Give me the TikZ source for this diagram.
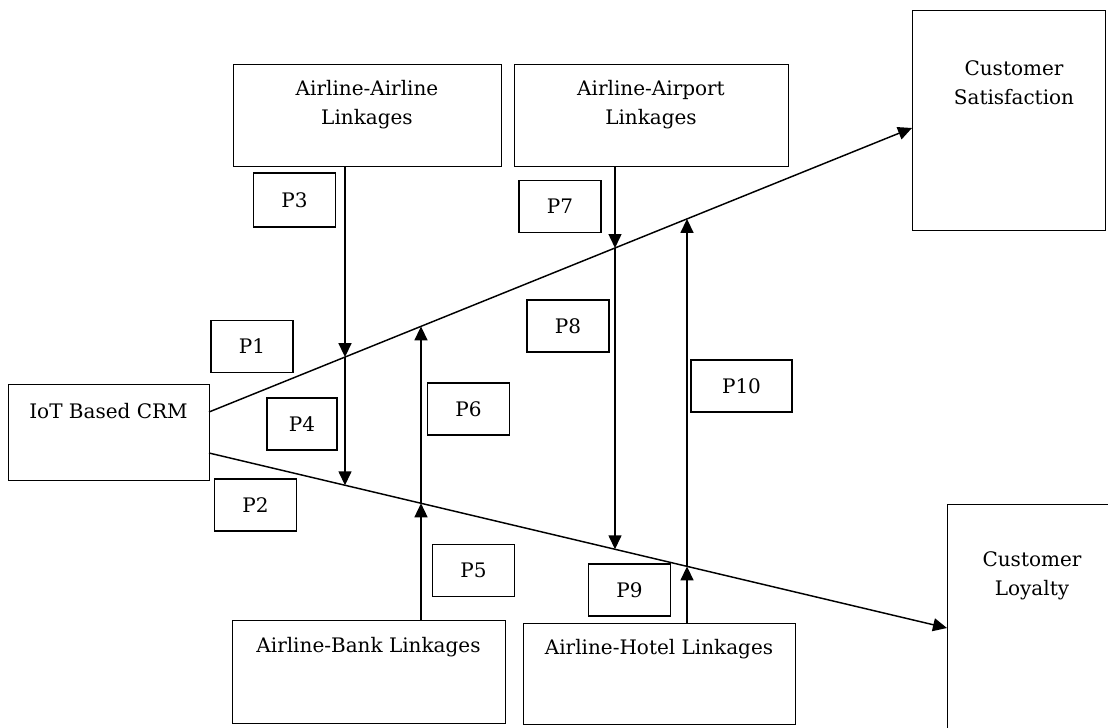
\documentclass[tikz,border=0pt]{standalone}
\usepackage{fontspec}
\setmainfont{DejaVu Serif}
\usetikzlibrary{arrows.meta}

\tikzset{every picture/.style={line width=0.75pt}}
\tikzset{
  box/.style={draw, line width=1pt, inner sep=0pt, anchor=north west},
  tag/.style={draw, line width=1pt, inner sep=0pt, minimum width=61.5pt, minimum height=39pt},
  lbl/.style={inner sep=0pt, align=center},
  link/.style={line width=1.1pt, -{Triangle[length=10.5pt,width=9.75pt]}},
}

\begin{document}
\begin{tikzpicture}[x=0.75pt,y=0.75pt,yscale=-1,xscale=1,font=\fontsize{15}{21.75}\selectfont]
\useasboundingbox (0,0) rectangle (1108,728);
\clip (0,0) rectangle (1108,728);

%Shape: Rectangle [crm]
\node [box, minimum width=150.75pt, minimum height=72pt] (crm) at (8,384) {};
%Shape: Rectangle [airline-airline]
\node [box, minimum width=201pt, minimum height=76.5pt] (aa) at (233,64) {};
%Shape: Rectangle [airline-airport]
\node [box, minimum width=205.5pt, minimum height=76.5pt] (ap) at (514,64) {};
%Shape: Rectangle [airline-bank]
\node [box, minimum width=204.75pt, minimum height=77.25pt] (bank) at (232,620) {};
%Shape: Rectangle [airline-hotel]
\node [box, minimum width=204pt, minimum height=75.75pt] (hotel) at (523,623) {};
%Shape: Rectangle [satisfaction]
\node [box, minimum width=144.75pt, minimum height=165pt] (sat) at (912,10) {};
%Shape: Rectangle [loyalty]
\node [box, minimum width=127.5pt, minimum height=180pt] (loy) at (947,504) {};

% Text Node
\node [lbl] (crmtxt) at (108.5,411) {IoT Based CRM};
% Text Node
\node [lbl] (aatxt) at (367,104.5) {Airline-Airline\\Linkages};
% Text Node
\node [lbl] (aptxt) at (651,104.5) {Airline-Airport\\Linkages};
% Text Node
\node [lbl] (banktxt) at (368.5,647) {Airline-Bank Linkages};
% Text Node
\node [lbl] (hoteltxt) at (659,649) {Airline-Hotel Linkages};
% Text Node
\node [lbl] (sattxt) at (1014,82.5) {Customer\\Satisfaction};
% Text Node
\node [lbl] (loytxt) at (1032,576) {Customer\\Loyalty};

%Shape: Rectangle [propositions]
\node [tag] (p1) at (252,346.5) {P1};
\node [tag] (p2) at (255.5,505) {P2};
\node [tag, minimum height=40.5pt] (p3) at (294.5,200) {P3};
\node [tag, minimum width=52.5pt] (p4) at (302,424) {P4};
\node [tag] (p5) at (473.5,570.5) {P5};
\node [tag] (p6) at (468.5,409) {P6};
\node [tag] (p7) at (560,206.5) {P7};
\node [tag] (p8) at (568,326) {P8};
\node [tag] (p9) at (629.5,590) {P9};
\node [tag, minimum width=75.75pt] (p10) at (741.5,386) {P10};

% end points and crossings of the two main paths
\coordinate (u0) at (209,412);
\coordinate (u1) at (912,128);
\coordinate (l0) at (209,453);
\coordinate (l1) at (947,628);
\coordinate (j1) at (345,357.1);
\coordinate (j2) at (345,485.3);
\coordinate (j3) at (421,326.4);
\coordinate (j4) at (421,503.3);
\coordinate (j5) at (615,248);
\coordinate (j6) at (615,549.3);
\coordinate (j7) at (687,218.9);
\coordinate (j8) at (687,566.4);

%Straight Lines [crm to satisfaction]
\draw [link] (u0) -- (u1);
%Straight Lines [crm to loyalty]
\draw [link] (l0) -- (l1);

%Straight Lines [airline-airline]
\draw [link] (aa.south -| j1) -- (j1);
\draw [link] (j1) -- (j2);
%Straight Lines [airline-bank]
\draw [link] (bank.north -| j4) -- (j4);
\draw [link] (j4) -- (j3);
%Straight Lines [airline-airport]
\draw [link] (ap.south -| j5) -- (j5);
\draw [link] (j5) -- (j6);
%Straight Lines [airline-hotel]
\draw [link] (hotel.north -| j8) -- (j8);
\draw [link] (j8) -- (j7);

\end{tikzpicture}
\end{document}
